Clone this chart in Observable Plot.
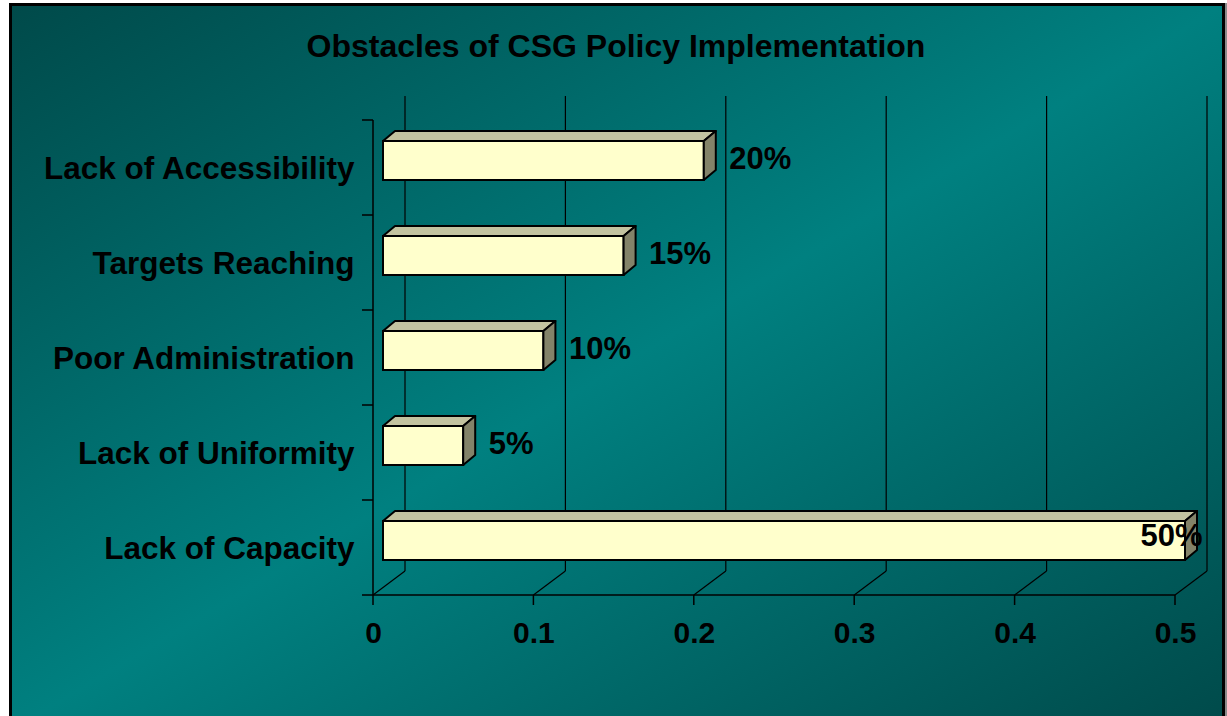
<!DOCTYPE html>
<html><head><meta charset="utf-8">
<script src="https://cdn.jsdelivr.net/npm/d3@7"></script>
<script src="https://cdn.jsdelivr.net/npm/@observablehq/plot@0.6"></script>
<style>
html,body{margin:0;padding:0;background:#fff;width:1227px;height:716px;overflow:hidden;position:relative;}
#frame{position:absolute;left:9px;top:3px;width:1216px;height:730px;box-sizing:border-box;border:3px solid #000;
  background:linear-gradient(to bottom right,#004a4a 0%,#008080 50%,#004a4a 100%);box-shadow:2px 0 0 #8a8a8a;}
#title{position:absolute;left:0;width:1232px;top:31px;text-align:center;font:bold 32px "Liberation Sans",Arial,sans-serif;line-height:31px;color:#000;}
#chart{position:absolute;left:0;top:0;}
#chart svg{background:transparent !important;overflow:visible;}
</style></head><body>
<div id="frame"></div>
<div id="title">Obstacles of CSG Policy Implementation</div>
<div id="chart"></div>
<script>
// ---- data ----
const categories = ["Lack of Accessibility", "Targets Reaching", "Poor Administration", "Lack of Uniformity", "Lack of Capacity"];
const values = [0.20, 0.15, 0.10, 0.05, 0.50];
const valueLabels = ["20%", "15%", "10%", "5%", "50%"];
const xTicks = [0, 0.1, 0.2, 0.3, 0.4, 0.5];
const xTickLabels = ["0", "0.1", "0.2", "0.3", "0.4", "0.5"];

const data = categories.map((c, i) => ({category: c, value: values[i], label: valueLabels[i]}));
const maxV = d3.max(values);

// ---- 3D look ----
const WALL = [32, -24];   // back wall offset
const FRONT = [10, -7];   // bar front-face offset
const DEPTH = [12, -10];  // bar depth
const INSET = 28;

function walls(index, scales, vals, dim) {
  const {x, y} = scales;
  const top = dim.marginTop, bot = dim.height - dim.marginBottom;
  const g = d3.create("svg:g").attr("fill", "none").attr("stroke", "#000");
  const line = (x1, y1, x2, y2, w = 1.2) => g.append("line").attr("x1", x1).attr("y1", y1).attr("x2", x2).attr("y2", y2).attr("stroke-width", w);
  const x0 = x(xTicks[0]), xe = x(xTicks[xTicks.length - 1]);
  for (const t of xTicks) {
    const px = x(t);
    line(px + WALL[0], top + WALL[1], px + WALL[0], bot + WALL[1]);
    line(px, bot, px + WALL[0], bot + WALL[1]);
    line(px, bot, px, bot + 10, 1.5);
  }
  line(x0, top, x0, bot, 1.5);
  line(x0 - 11, bot, xe, bot, 1.5);
  for (const c of categories) line(x0 - 11, y(c), x0, y(c), 1.5);
  return g.node();
}

function barFaces(index, scales, vals, dim) {
  const {x, y} = scales;
  const bw = y(categories[1]) - y(categories[0]);
  const g = d3.create("svg:g").attr("stroke", "#000").attr("stroke-width", 2).attr("stroke-linejoin", "round");
  for (const d of data) {
    const xa = x(0) + FRONT[0], xb = x(d.value) + FRONT[0];
    const yt = y(d.category) + INSET + FRONT[1], yb = y(d.category) + bw - INSET + FRONT[1];
    const [dx, dy] = DEPTH;
    g.append("polygon").attr("fill", "#C3C3A0")
      .attr("points", [[xa, yt], [xa + dx, yt + dy], [xb + dx, yt + dy], [xb, yt]].join(" "));
    g.append("polygon").attr("fill", "#838369")
      .attr("points", [[xb, yt], [xb + dx, yt + dy], [xb + dx, yb + dy], [xb, yb]].join(" "));
  }
  return g.node();
}

const font = "'Liberation Sans', Arial, sans-serif";
const chart = Plot.plot({
  width: 1227,
  height: 716,
  marginLeft: 373,
  marginRight: 52,
  marginTop: 120,
  marginBottom: 121,
  style: {background: "transparent", fontFamily: font, color: "#000", overflow: "visible"},
  x: {domain: [0, 0.5], axis: null},
  y: {domain: categories, axis: null, padding: 0},
  marks: [
    walls,
    Plot.barX(data, {x: "value", y: "category", fill: "#FFFFCC", stroke: "#000", strokeWidth: 2,
      insetTop: INSET, insetBottom: INSET, dx: FRONT[0], dy: FRONT[1]}),
    barFaces,
    Plot.text(categories, {y: d => d, frameAnchor: "left", textAnchor: "end", dx: -19, dy: 1,
      fontSize: 31.5, fontWeight: "bold", fill: "#000"}),
    Plot.text(xTicks, {x: d => d, text: (d, i) => xTickLabels[i], frameAnchor: "bottom", dy: 38,
      lineAnchor: "middle", fontSize: 30, fontWeight: "bold", fill: "#000"}),
    Plot.text(data.filter(d => d.value < maxV), {x: "value", y: "category", text: "label", textAnchor: "start",
      dx: 35, dy: -9, fontSize: 31, fontWeight: "bold", fill: "#000"}),
    Plot.text(data.filter(d => d.value === maxV), {x: "value", y: "category", text: "label", textAnchor: "end",
      dx: 27, dy: -12, fontSize: 31, fontWeight: "bold", fill: "#000"})
  ]
});
document.getElementById("chart").appendChild(chart);
</script>
</body></html>
